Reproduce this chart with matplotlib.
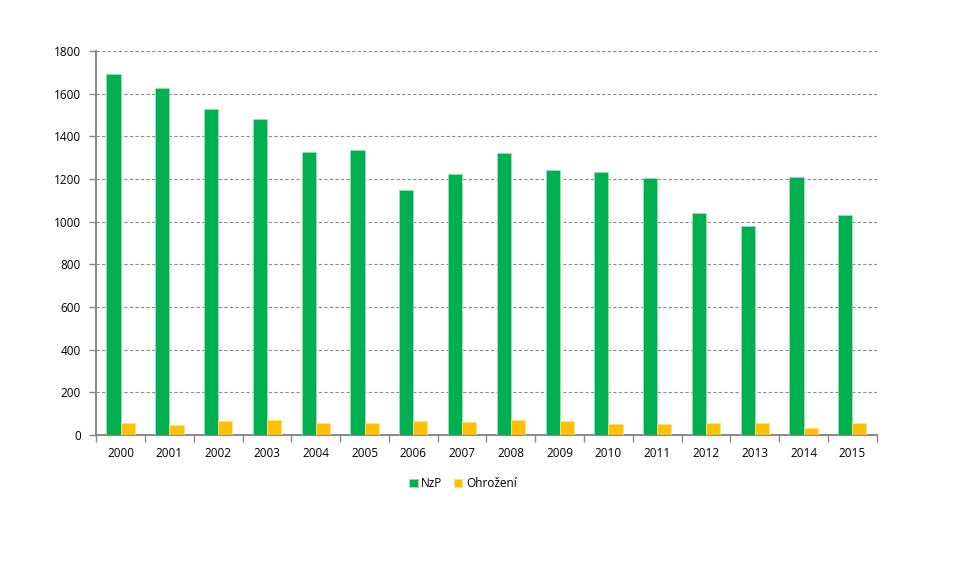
import numpy as np
import matplotlib.pyplot as plt

years = ["2000", "2001", "2002", "2003", "2004", "2005", "2006", "2007",
         "2008", "2009", "2010", "2011", "2012", "2013", "2014", "2015"]
nzp = [1690, 1625, 1528, 1483, 1325, 1337, 1147, 1225,
       1323, 1242, 1233, 1206, 1041, 979, 1211, 1032]
ohrozeni = [55, 47, 66, 68, 55, 55, 63, 59,
            70, 64, 52, 52, 54, 57, 33, 54]

plt.rcParams['font.family'] = ['Open Sans', 'DejaVu Sans']

fig = plt.figure(figsize=(9.72, 5.67), dpi=100)
ax = fig.add_axes([0.099, 0.233, 0.803, 0.677])

x = np.arange(len(years))
w = 0.29
ax.bar(x - w / 2, nzp, w, color='#00B050', edgecolor='#9fdcb5', linewidth=0.6, label='NzP', zorder=3)
ax.bar(x + w / 2, ohrozeni, w, color='#FFC000', edgecolor='#ffe08a', linewidth=0.6, label='Ohrožení', zorder=3)

ax.set_xlim(-0.5, len(years) - 0.5)
ax.set_ylim(0, 1800)
ax.set_yticks(range(0, 1801, 200))
ax.set_xticks(x)
ax.set_xticklabels(years)
ax.set_xticks(np.arange(-0.5, len(years)), minor=True)
ax.tick_params(axis='x', which='major', length=0, labelsize=8.5, pad=9)
ax.tick_params(axis='x', which='minor', length=5, color='#888888', width=1)
ax.tick_params(axis='y', length=5, color='#888888', width=1, labelsize=8.5, pad=6)

ax.yaxis.grid(True, linestyle=(0, (3, 2)), color='#8c8c8c', linewidth=0.8, zorder=0)
for s in ['top', 'right']:
    ax.spines[s].set_visible(False)
for s in ['left', 'bottom']:
    ax.spines[s].set_color('#8c8c8c')
    ax.spines[s].set_linewidth(1.5)

ax.legend(loc='upper center', bbox_to_anchor=(0.47, -0.082), ncol=2, frameon=False,
          fontsize=8.5, handlelength=0.7, handleheight=0.7, handletextpad=0.3, columnspacing=1.0)

fig.savefig("out.png", dpi=100)
